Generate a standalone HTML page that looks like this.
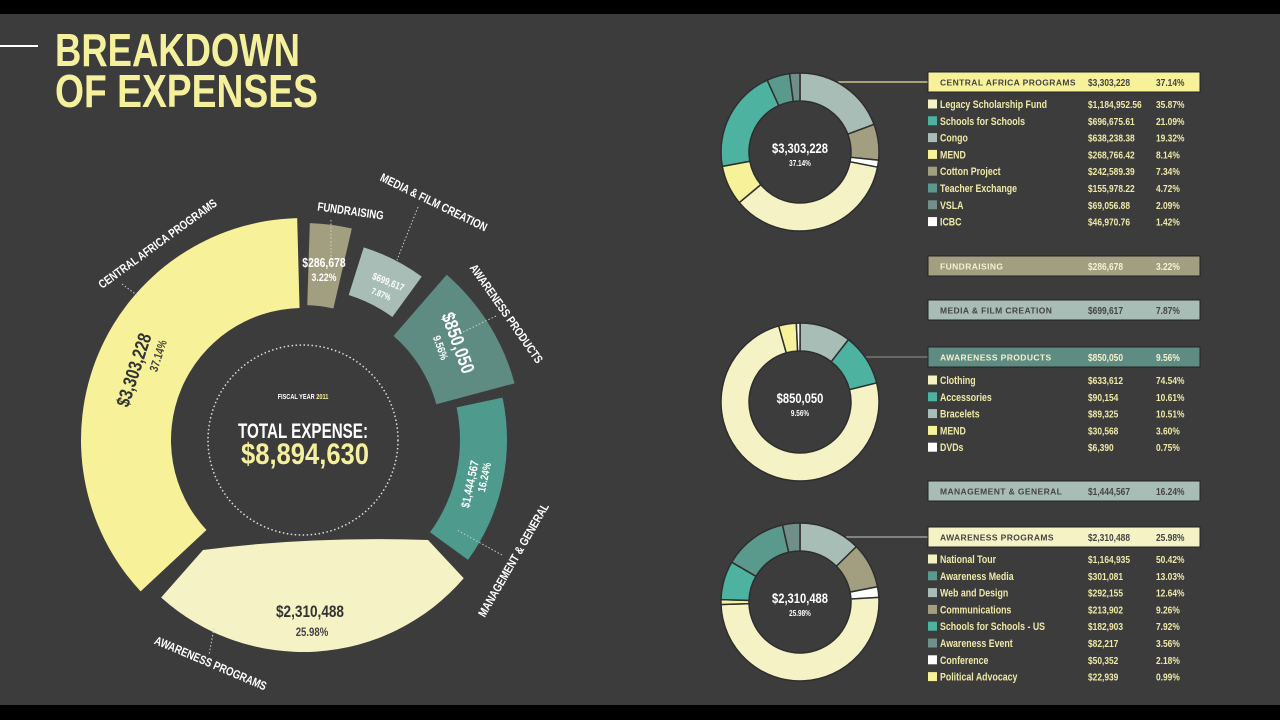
<!DOCTYPE html>
<html><head><meta charset="utf-8"><style>
html,body{margin:0;padding:0;background:#3c3c3c;}
svg{display:block}
text{font-family:"Liberation Sans Narrow","Liberation Sans",sans-serif;font-weight:bold}
</style></head><body>
<svg id="s" width="1280" height="720" viewBox="0 0 1280 720" xmlns="http://www.w3.org/2000/svg">
<rect width="1280" height="720" fill="#3c3c3c"/>
<rect width="1280" height="14" fill="#000"/>
<rect y="705" width="1280" height="15" fill="#000"/>
<line x1="0" y1="46" x2="38" y2="46" stroke="#fff" stroke-width="2"/>
<text x="55" y="66" font-size="46" fill="#f5f09c" textLength="245" lengthAdjust="spacingAndGlyphs">BREAKDOWN</text>
<text x="55" y="107" font-size="46" fill="#f5f09c" textLength="263" lengthAdjust="spacingAndGlyphs">OF EXPENSES</text>
<g id="main"></g>
<circle cx="303" cy="440" r="95" fill="none" stroke="#ddd" stroke-width="1.5" stroke-dasharray="1.5 2.5"/>
<text x="303" y="399" font-size="7" fill="#fff" text-anchor="middle">FISCAL YEAR <tspan fill="#f5f09c">2011</tspan></text>
<text x="303" y="438" font-size="21" fill="#fff" text-anchor="middle" textLength="130" lengthAdjust="spacingAndGlyphs">TOTAL EXPENSE:</text>
<text x="305" y="464" font-size="30" fill="#f5f09c" text-anchor="middle" textLength="128" lengthAdjust="spacingAndGlyphs">$8,894,630</text>
<!-- segment values -->
<g text-anchor="middle">
<text transform="translate(140,372) rotate(-72)" font-size="19" fill="#333">$3,303,228</text>
<text transform="translate(162,357) rotate(-72)" font-size="12" fill="#444" font-weight="normal">37.14%</text>
<text x="324" y="267" font-size="13" fill="#fff">$286,678</text>
<text x="324" y="281" font-size="11" fill="#fff" font-weight="normal">3.22%</text>
<text transform="translate(387,285) rotate(22)" font-size="10" fill="#fff">$699,617</text>
<text transform="translate(380,297) rotate(22)" font-size="9" fill="#fff" font-weight="normal">7.87%</text>
<text transform="translate(452,345) rotate(70)" font-size="19" fill="#fff">$850,050</text>
<text transform="translate(437,349) rotate(70)" font-size="11" fill="#fff" font-weight="normal">9.56%</text>
<text transform="translate(474,485) rotate(-78)" font-size="12" fill="#fff">$1,444,567</text>
<text transform="translate(488,478) rotate(-78)" font-size="11" fill="#fff" font-weight="normal">16.24%</text>
<text x="310" y="617" font-size="17" fill="#333">$2,310,488</text>
<text x="312" y="636" font-size="12" fill="#444" font-weight="normal">25.98%</text>
</g>
<!-- outer labels -->
<g text-anchor="middle" font-size="12" fill="#fff">
<text transform="translate(160,247) rotate(-36)" fill="#fff" font-size="12">CENTRAL AFRICA PROGRAMS</text>
<text transform="translate(350,215) rotate(8)" fill="#fff" font-size="12">FUNDRAISING</text>
<text transform="translate(432,206) rotate(26)" fill="#fff" font-size="12">MEDIA &amp; FILM CREATION</text>
<text transform="translate(503,316) rotate(55)" fill="#fff" font-size="12">AWARENESS PRODUCTS</text>
<text transform="translate(517,562) rotate(-60)" fill="#fff" font-size="12">MANAGEMENT &amp; GENERAL</text>
<text transform="translate(209,667) rotate(23)" fill="#fff" font-size="12">AWARENESS PROGRAMS</text>
</g>
<g stroke="#ccc" stroke-width="1" stroke-dasharray="1.5 2" fill="none">
<line x1="122" y1="284" x2="138" y2="296"/>
<line x1="331" y1="220" x2="331" y2="258"/>
<line x1="418" y1="207" x2="397" y2="260"/>
<line x1="496" y1="316" x2="463" y2="332"/>
<line x1="502" y1="555" x2="457" y2="530"/>
<line x1="214" y1="628" x2="209" y2="655"/>
</g>
<!-- connectors -->
<line x1="838" y1="82" x2="928" y2="82" stroke="#c9c58a" stroke-width="1.5"/>
<line x1="866" y1="357" x2="928" y2="357" stroke="#777" stroke-width="1.5"/>
<line x1="846" y1="537" x2="928" y2="537" stroke="#999" stroke-width="1.5"/>
<g id="small"></g>
<g id="tables"></g>
</svg>
<script>
var NS="http://www.w3.org/2000/svg";
function pt(cx,cy,r,a){var t=a*Math.PI/180;return [cx+r*Math.sin(t),cy-r*Math.cos(t)];}
function sec(cx,cy,r0,r1,a0,a1){var l=(a1-a0)>180?1:0;var p1=pt(cx,cy,r1,a0),p2=pt(cx,cy,r1,a1),p3=pt(cx,cy,r0,a1),p4=pt(cx,cy,r0,a0);
return "M"+p1+"A"+r1+","+r1+" 0 "+l+" 1 "+p2+"L"+p3+"A"+r0+","+r0+" 0 "+l+" 0 "+p4+"Z";}
function add(g,tag,attrs,txt){var e=document.createElementNS(NS,tag);for(var k in attrs)e.setAttribute(k,attrs[k]);if(txt!=null)e.textContent=txt;g.appendChild(e);return e;}
var m=document.getElementById("main");
add(m,"path",{d:sec(303,440,132,222,227,358.5),fill:"#f7f29a"});
add(m,"path",{d:sec(303,440,135,217,1.8,13),fill:"#a29f80"});
add(m,"path",{d:sec(303,440,152,202,17.5,36),fill:"#a9bdb7"});
add(m,"path",{d:sec(303,440,138,219,41,75),fill:"#5f8c82"});
add(m,"path",{d:sec(303,440,157,204,78,126),fill:"#4e9a8c"});
var a=pt(303,440,212,130.7),b=pt(303,440,212,222);
add(m,"path",{d:"M"+a+"A212,212 0 0 1 "+b+"L203,550Q310,536 428,540Z",fill:"#f5f3c6"});
var sm=document.getElementById("small");
function donut(cy,sl){var s=0;sl.forEach(function(x){var e=s+x[0]*3.6;add(sm,"path",{d:sec(800,cy,51,79,s,e),fill:x[1],stroke:"#2e2e2e","stroke-width":1.5});s=e;});}
var CG="#a9bdb7",KH="#a29f80",WH="#ffffff",PY="#f5f3c6",YE="#f7f29a",TE="#4db3a0",T2="#5a9a8c",T3="#6f8f88";
donut(152,[[19.32,CG],[7.34,KH],[1.42,WH],[35.87,PY],[8.14,YE],[21.09,TE],[4.72,T2],[2.09,T3]]);
donut(402,[[10.51,CG],[10.61,TE],[74.54,PY],[3.6,YE],[0.75,WH]]);
donut(602,[[12.64,CG],[9.26,KH],[2.18,WH],[50.42,PY],[0.99,YE],[7.92,TE],[13.03,T2],[3.56,T3]]);
[[152,"$3,303,228","37.14%"],[402,"$850,050","9.56%"],[602,"$2,310,488","25.98%"]].forEach(function(d){
add(sm,"text",{x:800,y:d[0]+1,"font-size":14,fill:"#fff","text-anchor":"middle"},d[1]);
add(sm,"text",{x:800,y:d[0]+14,"font-size":8,fill:"#fff","text-anchor":"middle"},d[2]);});
var tb=document.getElementById("tables");
function header(y,bg,fg,l,v,p){add(tb,"rect",{x:928,y:y,width:272,height:20,fill:bg,stroke:"#222","stroke-width":1});
add(tb,"text",{x:940,y:y+13.5,"font-size":8.5,fill:fg,"font-weight":"normal","letter-spacing":"0.4","data-k":"1"},l);
add(tb,"text",{x:1088,y:y+14,"font-size":10.5,fill:fg},v);add(tb,"text",{x:1156,y:y+14,"font-size":10.5,fill:fg},p);}
function rows(y,rs){rs.forEach(function(r,i){var yy=y+i*16.8;add(tb,"rect",{x:928,y:yy-4.5,width:9,height:9,fill:r[0]});
add(tb,"text",{x:940,y:yy+4,"font-size":11,fill:"#efe9a8"},r[1]);add(tb,"text",{x:1088,y:yy+4,"font-size":10.5,fill:"#efe9a8"},r[2]);add(tb,"text",{x:1156,y:yy+4,"font-size":10.5,fill:"#efe9a8"},r[3]);});}
header(72,"#f7f29a","#444","CENTRAL AFRICA PROGRAMS","$3,303,228","37.14%");
rows(104,[[PY,"Legacy Scholarship Fund","$1,184,952.56","35.87%"],[TE,"Schools for Schools","$696,675.61","21.09%"],[CG,"Congo","$638,238.38","19.32%"],[YE,"MEND","$268,766.42","8.14%"],[KH,"Cotton Project","$242,589.39","7.34%"],[T2,"Teacher Exchange","$155,978.22","4.72%"],[T3,"VSLA","$69,056.88","2.09%"],[WH,"ICBC","$46,970.76","1.42%"]]);
header(256,"#a29f80","#f4f0d0","FUNDRAISING","$286,678","3.22%");
header(300,"#a9bdb7","#444","MEDIA & FILM CREATION","$699,617","7.87%");
header(347,"#5f8c82","#f4f0d0","AWARENESS PRODUCTS","$850,050","9.56%");
rows(380,[[PY,"Clothing","$633,612","74.54%"],[TE,"Accessories","$90,154","10.61%"],[CG,"Bracelets","$89,325","10.51%"],[YE,"MEND","$30,568","3.60%"],[WH,"DVDs","$6,390","0.75%"]]);
header(481,"#a9bdb7","#444","MANAGEMENT & GENERAL","$1,444,567","16.24%");
header(527,"#f5f3c6","#444","AWARENESS PROGRAMS","$2,310,488","25.98%");
rows(559,[[PY,"National Tour","$1,164,935","50.42%"],[T2,"Awareness Media","$301,081","13.03%"],[CG,"Web and Design","$292,155","12.64%"],[KH,"Communications","$213,902","9.26%"],[TE,"Schools for Schools - US","$182,903","7.92%"],[T3,"Awareness Event","$82,217","3.56%"],[WH,"Conference","$50,352","2.18%"],[YE,"Political Advocacy","$22,939","0.99%"]]);
// condense text horizontally
var ts=document.querySelectorAll("text");
for(var i=0;i<ts.length;i++){var t=ts[i];if(t.hasAttribute("textLength")||t.hasAttribute("data-k"))continue;
var tr=t.getAttribute("transform");
if(tr){t.setAttribute("transform",tr+" scale(0.8,1)");}
else{var x=+t.getAttribute("x"),y=+t.getAttribute("y");t.setAttribute("transform","translate("+x+","+y+") scale(0.8,1) translate("+(-x)+","+(-y)+")");}}
</script>
</body></html>
